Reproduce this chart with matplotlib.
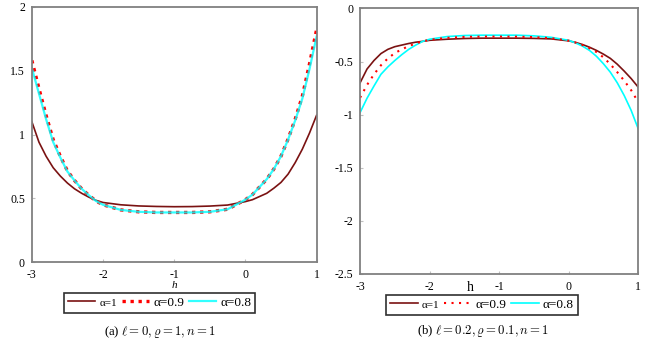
import matplotlib
matplotlib.use("Agg")
import matplotlib.pyplot as plt

plt.rcParams['font.family'] = ['Liberation Serif', 'DejaVu Serif']
plt.rcParams['mathtext.fontset'] = 'cm'

# h grid
h = [-3, -2.9, -2.8, -2.7, -2.6, -2.5, -2.4, -2.3, -2.2, -2.1, -2.0,
     -1.75, -1.5, -1.25, -1.0, -0.75, -0.5, -0.25, 0,
     0.1, 0.2, 0.3, 0.4, 0.5, 0.6, 0.7, 0.8, 0.9, 1.0]

# panel (a)
a_alpha1 = [1.10, 0.94, 0.83, 0.74, 0.675, 0.62, 0.575, 0.54, 0.51, 0.485, 0.468,
            0.45, 0.441, 0.437, 0.435, 0.436, 0.44, 0.448, 0.475,
            0.49, 0.515, 0.54, 0.58, 0.625, 0.69, 0.78, 0.885, 1.01, 1.15]
a_alpha09 = [1.58, 1.36, 1.15, 0.96, 0.83, 0.715, 0.64, 0.575, 0.525, 0.48, 0.45,
             0.41, 0.395, 0.39, 0.39, 0.39, 0.395, 0.415, 0.49,
             0.53, 0.59, 0.65, 0.73, 0.83, 0.965, 1.12, 1.30, 1.55, 1.82]
a_alpha08 = [1.52, 1.32, 1.12, 0.94, 0.82, 0.71, 0.64, 0.575, 0.525, 0.48, 0.45,
             0.41, 0.395, 0.39, 0.39, 0.39, 0.395, 0.415, 0.49,
             0.53, 0.59, 0.65, 0.73, 0.83, 0.96, 1.11, 1.28, 1.51, 1.765]

# panel (b)
b_alpha1 = [-0.70, -0.57, -0.49, -0.425, -0.385, -0.36, -0.345, -0.33, -0.318, -0.31, -0.30,
            -0.29, -0.283, -0.28, -0.28, -0.28, -0.282, -0.287, -0.305,
            -0.32, -0.34, -0.365, -0.395, -0.43, -0.47, -0.525, -0.59, -0.66, -0.74]
b_alpha09 = [-0.84, -0.72, -0.62, -0.535, -0.47, -0.42, -0.385, -0.355, -0.33, -0.31, -0.295,
             -0.277, -0.268, -0.265, -0.265, -0.266, -0.27, -0.28, -0.303,
             -0.322, -0.345, -0.375, -0.41, -0.46, -0.525, -0.60, -0.68, -0.77, -0.88]
b_alpha08 = [-0.98, -0.845, -0.73, -0.62, -0.55, -0.49, -0.435, -0.385, -0.345, -0.31, -0.29,
             -0.265, -0.255, -0.252, -0.252, -0.252, -0.258, -0.272, -0.30,
             -0.325, -0.355, -0.395, -0.45, -0.52, -0.60, -0.70, -0.82, -0.96, -1.13]

labels = ['α=1', 'α=0.9', 'α=0.8']
c1, c09, c08 = '#7a1212', '#ff0000', '#00ffff'


def add_legend(handles, center):
    leg = fig.legend(handles, labels, loc='center', bbox_to_anchor=center, ncol=3,
                     fancybox=False, edgecolor='#303030', framealpha=1, fontsize=9.5,
                     handlelength=2.1, handletextpad=0.3, columnspacing=0.35,
                     borderpad=0.3, borderaxespad=0)
    leg.get_frame().set_linewidth(1.2)
    leg.get_texts()[0].set_fontsize(8)
    return leg


fig = plt.figure(figsize=(6.5, 3.44), dpi=100)
ax1 = fig.add_axes([0.049, 0.2375, 0.438, 0.743])
ax2 = fig.add_axes([0.554, 0.2035, 0.4277, 0.772])

# (a)
l1, = ax1.plot(h, a_alpha1, color=c1, lw=1.2)
l2, = ax1.plot(h, a_alpha09, color=c09, lw=2.4, linestyle=(0, (1, 1.4)))
l3, = ax1.plot(h, a_alpha08, color=c08, lw=1.6, alpha=0.8)
ax1.set_xlim(-3, 1)
ax1.set_ylim(0, 2)
ax1.set_xticks([-3, -2, -1, 0, 1])
ax1.set_xticklabels(['-3', '-2', '-1', '0', '1'])
ax1.set_yticks([0, 0.5, 1, 1.5, 2])
ax1.set_yticklabels(['0', '0.5', '1', '1.5', '2'])
ax1.text(0.5, -0.09, 'h', style='italic', fontsize=8, ha='center', va='center',
         transform=ax1.transAxes)
add_legend([l1, l2, l3], (0.2455, 0.1195))
fig.text(0.2455, 0.036, r'(a) $\ell = 0, \varrho = 1, n = 1$', ha='center', va='center',
         fontsize=9.2)

# (b)
m1, = ax2.plot(h, b_alpha1, color=c1, lw=1.2)
m3, = ax2.plot(h, b_alpha08, color=c08, lw=1.2)
m2, = ax2.plot(h, b_alpha09, color=c09, lw=1.5, linestyle=(0, (1, 2.6)))
ax2.set_xlim(-3, 1)
ax2.set_ylim(-2.5, 0)
ax2.set_xticks([-3, -2, -1, 0, 1])
ax2.set_xticklabels(['-3', '-2', '-1', '0', '1'])
ax2.set_yticks([-2.5, -2, -1.5, -1, -0.5, 0])
ax2.set_yticklabels(['-2.5', '-2', '-1.5', '-1', '-0.5', '0'])
ax2.text(0.395, -0.05, 'h', fontsize=10, ha='center', va='center', transform=ax2.transAxes)
add_legend([m1, m2, m3], (0.7415, 0.1145))
fig.text(0.743, 0.037, r'(b) $\ell = 0.2, \varrho = 0.1, n = 1$', ha='center', va='center',
         fontsize=9.2)

for ax in (ax1, ax2):
    for s in ax.spines.values():
        s.set_color('#808080')
        s.set_linewidth(1.3)
    ax.tick_params(length=2, direction='in', color='#c0c0c0', labelsize=8.5, pad=5)

fig.savefig('out.png', dpi=100)
